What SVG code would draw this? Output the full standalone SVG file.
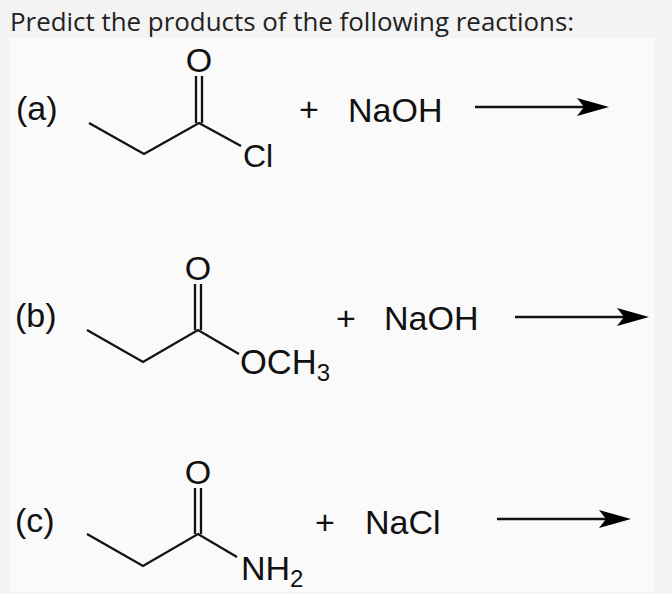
<svg xmlns="http://www.w3.org/2000/svg" width="672" height="594" viewBox="0 0 672 594">
<style>
.b{fill:none;stroke:#111;stroke-width:2.3}
.t{font-family:"Liberation Sans",Arial,sans-serif;font-size:34px;fill:#111}
.s{font-size:24px}
.h{font-family:"Open Sans",sans-serif;font-size:25.9px;fill:#222}
.a{stroke:#111;stroke-width:2.3;fill:none}
.p{fill:#000}
</style>
<rect width="672" height="594" fill="#f3f3f3"/>
<rect x="10" y="38" width="644" height="554" fill="#fafafa"/>
<text class="h" x="10" y="31">Predict the products of the following reactions:</text>
<g id="connectors">
<path class="b" d="M89 123L144 154L199 123L241 146M196 123V76M202 123V76"/>
<path class="b" d="M87 330L143 362L198 330L239 354M195 330V284M201 330V284"/>
<path class="b" d="M87 534L143 566L198 534L237 557M195 534V488M201 534V488"/>
<path class="a" d="M475 107H586"/><path class="p" d="M609 107L577 98L584 107L577 116Z"/>
<path class="a" d="M515 317H626"/><path class="p" d="M649 317L617 308L624 317L617 326Z"/>
<path class="a" d="M497 519H608"/><path class="p" d="M631 519L599 510L606 519L599 528Z"/>
</g>
<g id="reaction-a">
<text class="t" x="16" y="120">(a)</text>
<text class="t" x="199" y="72" text-anchor="middle">O</text>
<text class="t" x="243" y="167" style="font-size:32px">Cl</text>
<text class="t" x="299" y="121">+</text>
<text class="t" x="348" y="122">NaOH</text>
</g>
<g id="reaction-b">
<text class="t" x="15" y="327">(b)</text>
<text class="t" x="198" y="280" text-anchor="middle">O</text>
<text class="t" x="240" y="374" style="font-size:34.5px">OCH<tspan class="s" dy="7">3</tspan></text>
<text class="t" x="336" y="330">+</text>
<text class="t" x="384" y="330">NaOH</text>
</g>
<g id="reaction-c">
<text class="t" x="15" y="532">(c)</text>
<text class="t" x="198" y="484" text-anchor="middle">O</text>
<text class="t" x="241" y="580">NH<tspan class="s" dy="7">2</tspan></text>
<text class="t" x="315" y="534">+</text>
<text class="t" x="365" y="534">NaCl</text>
</g>
</svg>
